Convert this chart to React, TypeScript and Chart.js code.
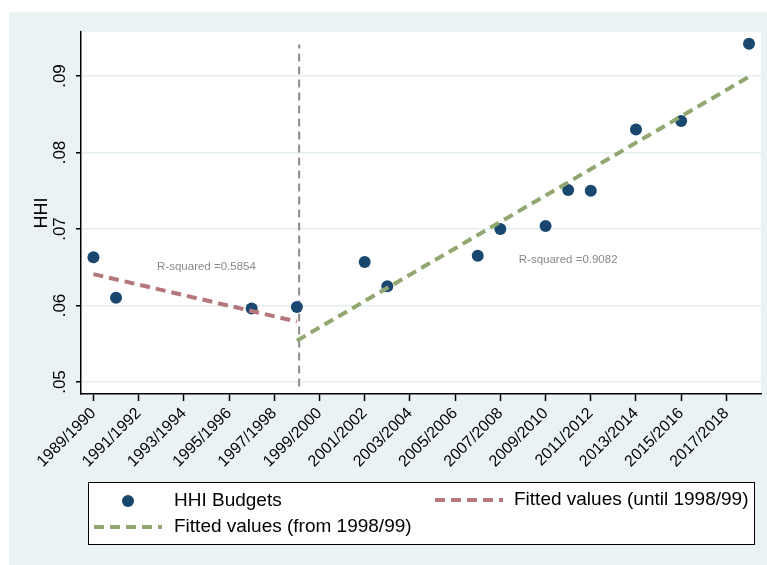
import React, { useEffect, useRef } from 'react';
import { Chart, registerables } from 'chart.js';

Chart.register(...registerables);

// ---- data ----
const years = [1989, 1990, 1996, 1998, 2001, 2002, 2006, 2007, 2009, 2010, 2011, 2013, 2015, 2018];
const hhi = [0.0663, 0.061, 0.0596, 0.0598, 0.0657, 0.0625, 0.0665, 0.07, 0.0704, 0.0751, 0.075, 0.083, 0.0841, 0.0942];

const fitUntilX = [1989, 1998];
const fitUntilY = [0.0641, 0.0579];
const fitFromX = [1998, 2018];
const fitFromY = [0.0554, 0.0899];

const breakX = [1998.1, 1998.1];
const breakY = [0.0494, 0.0941];

const xTickValues = [1989, 1991, 1993, 1995, 1997, 1999, 2001, 2003, 2005, 2007, 2009, 2011, 2013, 2015, 2017];
const xTickLabels = [
  '1989/1990', '1991/1992', '1993/1994', '1995/1996', '1997/1998', '1999/2000', '2001/2002',
  '2003/2004', '2005/2006', '2007/2008', '2009/2010', '2011/2012', '2013/2014', '2015/2016', '2017/2018',
];
const yTickValues = [0.05, 0.06, 0.07, 0.08, 0.09];
const yTickLabels = ['.05', '.06', '.07', '.08', '.09'];

const rsqLabels = ['R-squared =0.5854', 'R-squared =0.9082'];
const rsqX = [1994, 2010];
const rsqY = [0.065, 0.066];

const seriesLabels = ['HHI Budgets', 'Fitted values (until 1998/99)', 'Fitted values (from 1998/99)'];

// ---- styles ----
const FONT = '"Liberation Sans", Arial, sans-serif';
const NAVY = '#1a476f';
const RED = '#b5777b';
const GREEN = '#90a870';
const BG = '#eaf2f3';
const DASH = [10, 6];

const bgPlugin = {
  id: 'bgPlugin',
  beforeDraw(chart: any) {
    const { ctx, chartArea } = chart;
    ctx.save();
    ctx.fillStyle = '#ffffff';
    ctx.fillRect(0, 0, chart.width, chart.height);
    ctx.fillStyle = BG;
    ctx.fillRect(9, 12, chart.width - 9, chart.height - 12);
    ctx.fillStyle = '#ffffff';
    ctx.fillRect(chartArea.left, chartArea.top, chartArea.right - chartArea.left, chartArea.bottom - chartArea.top);
    ctx.restore();
  },
};

const rsqPlugin = {
  id: 'rsqPlugin',
  afterDatasetsDraw(chart: any) {
    const { ctx, scales } = chart;
    ctx.save();
    ctx.font = `11.5px ${FONT}`;
    ctx.fillStyle = '#8a8a8a';
    ctx.textAlign = 'center';
    ctx.textBaseline = 'middle';
    rsqLabels.forEach((t, i) => {
      ctx.fillText(t, scales.x.getPixelForValue(rsqX[i]), scales.y.getPixelForValue(rsqY[i]));
    });
    ctx.restore();
  },
};

const legendPlugin = {
  id: 'customLegend',
  afterDraw(chart: any) {
    const { ctx } = chart;
    const ds = chart.data.datasets;
    ctx.save();
    ctx.fillStyle = '#ffffff';
    ctx.fillRect(88, 482, 666, 62);
    ctx.strokeStyle = '#000000';
    ctx.lineWidth = 1;
    ctx.strokeRect(88.5, 482.5, 666, 62);
    ctx.font = `19px ${FONT}`;
    ctx.textAlign = 'left';
    ctx.textBaseline = 'middle';
    ctx.beginPath();
    ctx.fillStyle = ds[0].backgroundColor;
    ctx.arc(128, 501, 6, 0, Math.PI * 2);
    ctx.fill();
    ctx.fillStyle = '#000000';
    ctx.fillText(ds[0].label, 174, 501);
    const line = (x0: number, x1: number, y: number, color: string) => {
      ctx.beginPath();
      ctx.setLineDash(DASH);
      ctx.strokeStyle = color;
      ctx.lineWidth = 4;
      ctx.moveTo(x0, y);
      ctx.lineTo(x1, y);
      ctx.stroke();
      ctx.setLineDash([]);
    };
    line(435, 503, 500, ds[1].borderColor);
    ctx.fillText(ds[1].label, 514, 500);
    line(94, 162, 527, ds[2].borderColor);
    ctx.fillText(ds[2].label, 174, 527);
    ctx.restore();
  },
};

export default function App() {
  const ref = useRef<HTMLCanvasElement | null>(null);

  useEffect(() => {
    if (!ref.current) return;
    const chart = new Chart(ref.current, {
      type: 'scatter',
      data: {
        datasets: [
          {
            type: 'scatter',
            label: seriesLabels[0],
            data: years.map((x, i) => ({ x, y: hhi[i] })),
            backgroundColor: NAVY,
            borderWidth: 0,
            pointRadius: 6,
            order: 3,
          },
          {
            type: 'line',
            label: seriesLabels[1],
            data: fitUntilX.map((x, i) => ({ x, y: fitUntilY[i] })),
            borderColor: RED,
            borderWidth: 4,
            borderDash: DASH,
            pointRadius: 0,
            fill: false,
            order: 1,
          },
          {
            type: 'line',
            label: seriesLabels[2],
            data: fitFromX.map((x, i) => ({ x, y: fitFromY[i] })),
            borderColor: GREEN,
            borderWidth: 4,
            borderDash: DASH,
            pointRadius: 0,
            fill: false,
            order: 1,
          },
          {
            type: 'line',
            label: 'break',
            data: breakX.map((x, i) => ({ x, y: breakY[i] })),
            borderColor: '#8c8c8c',
            borderWidth: 2,
            borderDash: [8, 5],
            pointRadius: 0,
            fill: false,
            order: 5,
          },
        ] as any,
      },
      options: {
        animation: false,
        responsive: false,
        layout: { padding: { left: 0, top: 32, right: 5, bottom: 0 } },
        plugins: { legend: { display: false }, tooltip: { enabled: false } },
        scales: {
          x: {
            type: 'linear',
            min: 1988.45,
            max: 2018.53,
            afterBuildTicks: (scale: any) => {
              scale.ticks = xTickValues.map((v) => ({ value: v }));
            },
            afterFit: (scale: any) => {
              scale.height = 171;
              scale.paddingLeft = 0;
              scale.paddingRight = 0;
            },
            ticks: {
              autoSkip: false,
              minRotation: 45,
              maxRotation: 45,
              padding: 3,
              color: '#000000',
              font: { family: FONT, size: 16 },
              callback: (v: any) => {
                const i = xTickValues.indexOf(Number(v));
                return i >= 0 ? xTickLabels[i] : '';
              },
            },
            grid: {
              display: true,
              drawOnChartArea: false,
              drawTicks: true,
              tickLength: 7,
              tickColor: '#000000',
              tickWidth: 1.5,
            },
            border: { display: true, color: '#000000', width: 1.5 },
          },
          y: {
            type: 'linear',
            min: 0.04843,
            max: 0.09575,
            afterBuildTicks: (scale: any) => {
              scale.ticks = yTickValues.map((v) => ({ value: v }));
            },
            afterFit: (scale: any) => {
              scale.width = 81;
              scale.paddingTop = 0;
              scale.paddingBottom = 0;
            },
            ticks: {
              minRotation: 90,
              maxRotation: 90,
              crossAlign: 'center',
              padding: 4,
              color: '#000000',
              font: { family: FONT, size: 17 },
              callback: (v: any) => {
                const i = yTickValues.findIndex((t) => Math.abs(t - Number(v)) < 1e-9);
                return i >= 0 ? yTickLabels[i] : '';
              },
            },
            title: {
              display: true,
              text: 'HHI',
              color: '#000000',
              font: { family: FONT, size: 18 },
              padding: { top: 31, bottom: 0 },
            },
            grid: {
              display: true,
              drawOnChartArea: true,
              color: '#e4eef0',
              lineWidth: 1.5,
              drawTicks: true,
              tickLength: 5,
              tickColor: '#000000',
              tickWidth: 1.5,
            },
            border: { display: true, color: '#000000', width: 1.5 },
          },
        },
      } as any,
      plugins: [bgPlugin, rsqPlugin, legendPlugin],
    });
    return () => chart.destroy();
  }, []);

  return (
    <div style={{ position: 'absolute', left: 0, top: 0, width: 767, height: 565 }}>
      <canvas ref={ref} width={767} height={565} style={{ display: 'block', width: 767, height: 565 }} />
    </div>
  );
}
